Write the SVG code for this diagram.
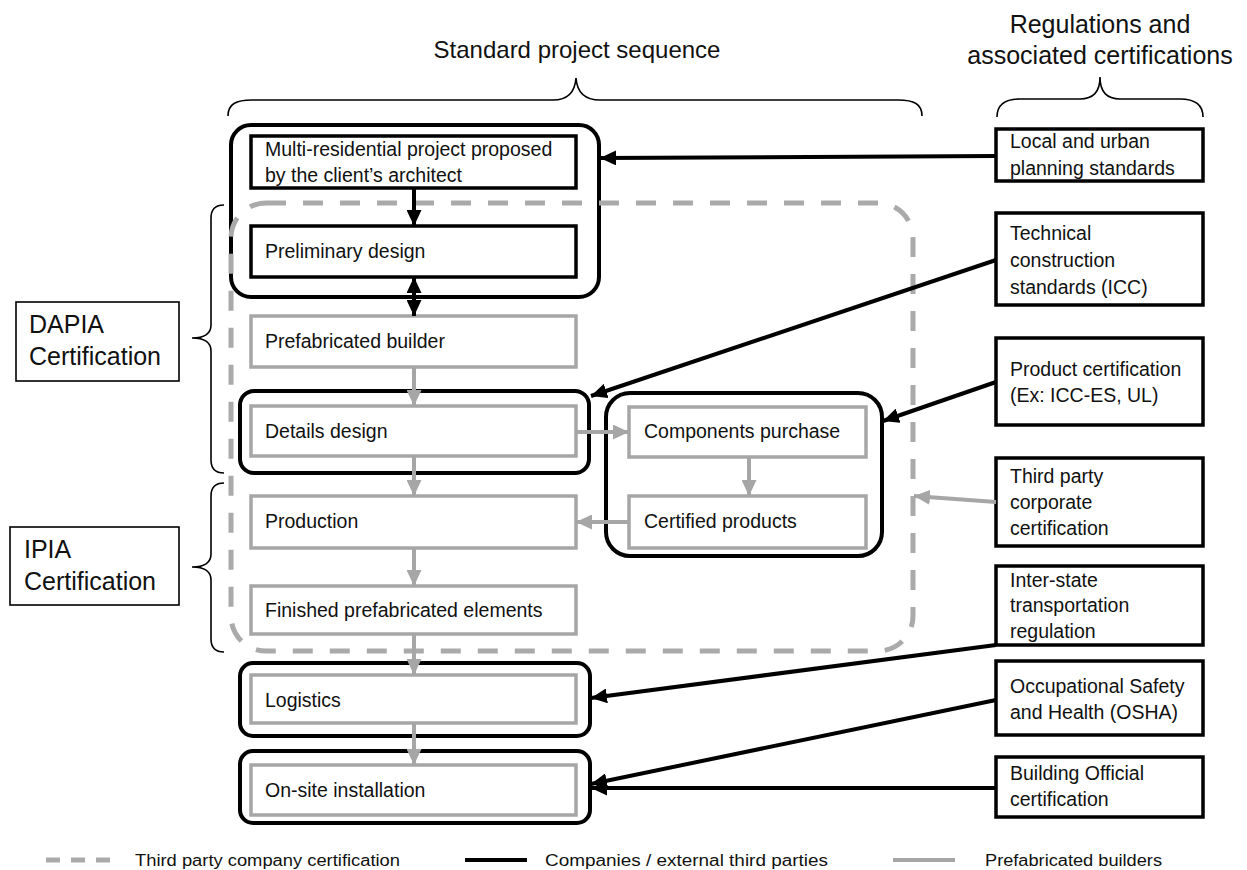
<svg xmlns="http://www.w3.org/2000/svg" width="1247" height="870" viewBox="0 0 1247 870">
<style>
text{font-family:"Liberation Sans",Arial,sans-serif;fill:#111;}
.t{font-size:19.5px;}
.title{font-size:24px;}
.title2{font-size:25px;}
.lg{font-size:16px;}
.blk{fill:#fff;stroke:#000;stroke-width:3.5;}
.gry{fill:#fff;stroke:#a6a6a6;stroke-width:3.5;}
.outer{fill:none;stroke:#000;stroke-width:4;}
.dash{fill:none;stroke:#aaaaaa;stroke-width:5;stroke-dasharray:20 17;}
.brace{fill:none;stroke:#000;stroke-width:1.6;}
.cb{stroke:#000;stroke-width:4;fill:none;marker-end:url(#ab);}
.cg{stroke:#a6a6a6;stroke-width:4;fill:none;marker-end:url(#ag);}
</style>
<defs>
<marker id="ab" markerUnits="userSpaceOnUse" markerWidth="17" markerHeight="15" refX="16" refY="7.5" orient="auto-start-reverse"><path d="M0,0 L16,7.5 L0,15 z" fill="#000"/></marker>
<marker id="ag" markerUnits="userSpaceOnUse" markerWidth="17" markerHeight="15" refX="16" refY="7.5" orient="auto"><path d="M0,0 L16,7.5 L0,15 z" fill="#a6a6a6"/></marker>
</defs>

<g id="titles">
<text class="title" x="577" y="58" text-anchor="middle">Standard project sequence</text>
<text class="title2" x="1100" y="33" text-anchor="middle">Regulations and</text>
<text class="title2" x="1100" y="64" text-anchor="middle">associated certifications</text>
<path class="brace" d="M228,116 C228,104 236,100 252,100 L553,100 C568,100 575,92 576,78 C577,92 584,100 600,100 L898,100 C914,100 922,104 922,116"/>
<path class="brace" d="M997,117 C997,105 1005,99 1020,99 L1080,99 C1095,99 1100,90 1100,77 C1100,90 1105,99 1120,99 L1180,99 C1195,99 1203,105 1203,117"/>
</g>

<g id="dapia">
<rect x="16" y="302" width="163" height="79" fill="#fff" stroke="#000" stroke-width="1.6"/>
<text class="title2" x="29" y="333">DAPIA</text>
<text class="title2" x="29" y="365">Certification</text>
<path class="brace" d="M224,205 C216,205 211,209 211,218 L211,325 C211,333 205,338 192,338 C205,338 211,343 211,351 L211,460 C211,469 216,473 224,473"/>
</g>
<g id="ipia">
<rect x="10" y="527" width="169" height="78" fill="#fff" stroke="#000" stroke-width="1.6"/>
<text class="title2" x="24" y="558">IPIA</text>
<text class="title2" x="24" y="590">Certification</text>
<path class="brace" d="M224,483 C216,483 211,487 211,496 L211,554 C211,562 205,567 192,567 C205,567 211,572 211,580 L211,639 C211,648 216,652 224,652"/>
</g>

<g id="group-design"><rect class="outer" x="231" y="125" width="368" height="172" rx="20"/></g>
<g id="group-details"><rect class="outer" x="240" y="391" width="349" height="82" rx="14"/></g>
<g id="group-components"><rect class="outer" x="606" y="393" width="276" height="163" rx="24"/></g>
<g id="group-logistics"><rect class="outer" x="240" y="663" width="350" height="73" rx="13"/></g>
<g id="group-onsite"><rect class="outer" x="240" y="751" width="350" height="72" rx="13"/></g>

<g id="multi"><rect class="blk" x="251" y="136" width="325" height="52"/>
<text class="t" x="265" y="156">Multi-residential project proposed</text>
<text class="t" x="265" y="182">by the client’s architect</text></g>
<g id="preliminary"><rect class="blk" x="251" y="226" width="325" height="51"/>
<text class="t" x="265" y="258">Preliminary design</text></g>
<g id="prefab-builder"><rect class="gry" x="251" y="316" width="325" height="51"/>
<text class="t" x="265" y="348">Prefabricated builder</text></g>
<g id="details"><rect class="gry" x="251" y="406" width="325" height="50"/>
<text class="t" x="265" y="438">Details design</text></g>
<g id="production"><rect class="gry" x="251" y="496" width="325" height="52"/>
<text class="t" x="265" y="528">Production</text></g>
<g id="finished"><rect class="gry" x="251" y="586" width="325" height="48"/>
<text class="t" x="265" y="617">Finished prefabricated elements</text></g>
<g id="logistics"><rect class="gry" x="251" y="675" width="325" height="48"/>
<text class="t" x="265" y="707">Logistics</text></g>
<g id="onsite"><rect class="gry" x="251" y="765" width="325" height="50"/>
<text class="t" x="265" y="797">On-site installation</text></g>
<g id="components"><rect class="gry" x="629" y="407" width="237" height="50"/>
<text class="t" x="644" y="438">Components purchase</text></g>
<g id="certified"><rect class="gry" x="629" y="496" width="237" height="52"/>
<text class="t" x="644" y="528">Certified products</text></g>

<g id="third-party-cert"><rect class="dash" x="231" y="203" width="682" height="448" rx="35"/></g>

<g id="reg-local"><rect class="blk" x="996" y="129" width="207" height="52"/>
<text class="t" x="1010" y="148">Local and urban</text>
<text class="t" x="1010" y="175">planning standards</text></g>
<g id="reg-technical"><rect class="blk" x="996" y="213" width="207" height="92"/>
<text class="t" x="1010" y="240">Technical</text>
<text class="t" x="1010" y="267">construction</text>
<text class="t" x="1010" y="294">standards (ICC)</text></g>
<g id="reg-product"><rect class="blk" x="996" y="338" width="207" height="87"/>
<text class="t" x="1010" y="376">Product certification</text>
<text class="t" x="1010" y="402">(Ex: ICC-ES, UL)</text></g>
<g id="reg-thirdparty"><rect class="blk" x="996" y="458" width="207" height="88"/>
<text class="t" x="1010" y="483">Third party</text>
<text class="t" x="1010" y="509">corporate</text>
<text class="t" x="1010" y="535">certification</text></g>
<g id="reg-interstate"><rect class="blk" x="996" y="566" width="207" height="79"/>
<text class="t" x="1010" y="587">Inter-state</text>
<text class="t" x="1010" y="612">transportation</text>
<text class="t" x="1010" y="638">regulation</text></g>
<g id="reg-osha"><rect class="blk" x="996" y="661" width="207" height="74"/>
<text class="t" x="1010" y="693">Occupational Safety</text>
<text class="t" x="1010" y="719">and Health (OSHA)</text></g>
<g id="reg-building"><rect class="blk" x="996" y="757" width="207" height="60"/>
<text class="t" x="1010" y="780">Building Official</text>
<text class="t" x="1010" y="806">certification</text></g>

<g id="connectors">
<line class="cb" x1="414" y1="188" x2="414" y2="226"/>
<line class="cb" x1="414" y1="277" x2="414" y2="316" style="marker-start:url(#ab)"/>
<line class="cg" x1="414" y1="367" x2="414" y2="406"/>
<line class="cg" x1="414" y1="456" x2="414" y2="496"/>
<line class="cg" x1="414" y1="548" x2="414" y2="586"/>
<line class="cg" x1="414" y1="634" x2="414" y2="675"/>
<line class="cg" x1="414" y1="723" x2="414" y2="765"/>
<line class="cg" x1="576" y1="432" x2="629" y2="432"/>
<line class="cg" x1="749" y1="457" x2="749" y2="496"/>
<line class="cg" x1="629" y1="522" x2="576" y2="522"/>
<line class="cb" x1="996" y1="156" x2="600" y2="158"/>
<line class="cb" x1="996" y1="260" x2="591" y2="396"/>
<line class="cb" x1="996" y1="382" x2="883" y2="421"/>
<line class="cg" x1="996" y1="502" x2="914" y2="496"/>
<line class="cb" x1="996" y1="645" x2="591" y2="698"/>
<line class="cb" x1="996" y1="700" x2="591" y2="784"/>
<line class="cb" x1="996" y1="788" x2="591" y2="788"/>
</g>

<g id="legend">
<line x1="46" y1="860" x2="114" y2="860" stroke="#aaaaaa" stroke-width="5" stroke-dasharray="14 11"/>
<text class="lg" x="135" y="866" textLength="265" lengthAdjust="spacingAndGlyphs">Third party company certification</text>
<line x1="465" y1="860" x2="527" y2="860" stroke="#000" stroke-width="4"/>
<text class="lg" x="545" y="866" textLength="283" lengthAdjust="spacingAndGlyphs">Companies / external third parties</text>
<line x1="893" y1="860" x2="955" y2="860" stroke="#a6a6a6" stroke-width="4"/>
<text class="lg" x="985" y="866" textLength="177" lengthAdjust="spacingAndGlyphs">Prefabricated builders</text>
</g>
</svg>
